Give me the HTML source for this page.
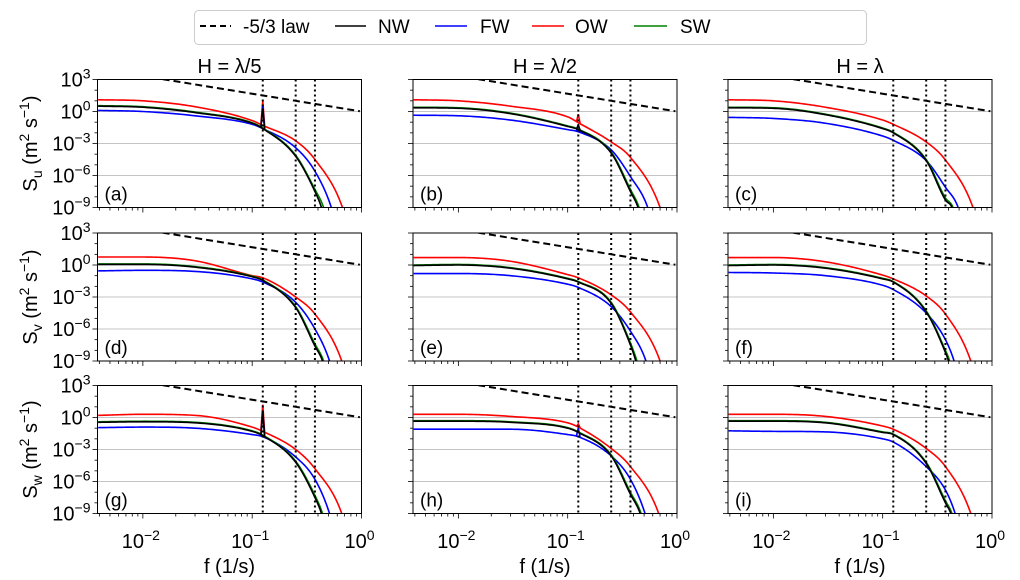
<!DOCTYPE html>
<html><head><meta charset="utf-8">
<style>
body{margin:0;background:#fff;}
svg{display:block;font-family:"Liberation Sans","DejaVu Sans",sans-serif;}
</style></head>
<body>
<svg id="fig" width="1020" height="580" viewBox="0 0 1020 580" xmlns="http://www.w3.org/2000/svg">
<g id="legend">
  <rect x="194.5" y="10.5" width="672" height="34" rx="4" fill="#fff" stroke="#ccc"/>
  <g><line x1="200" y1="26" x2="231" y2="26" stroke="#000" stroke-width="2" stroke-dasharray="6,4"/><text x="243" y="33" font-size="19">-5/3 law</text></g>
  <g><line x1="335" y1="26" x2="366" y2="26" stroke="#000" stroke-width="1.6"/><text x="378" y="33" font-size="19">NW</text></g>
  <g><line x1="435" y1="26" x2="467" y2="26" stroke="#0000ff" stroke-width="1.6"/><text x="480" y="33" font-size="19">FW</text></g>
  <g><line x1="532" y1="26" x2="564" y2="26" stroke="#ff0000" stroke-width="1.6"/><text x="575" y="33" font-size="19">OW</text></g>
  <g><line x1="634" y1="26" x2="667" y2="26" stroke="#008000" stroke-width="1.6"/><text x="680" y="33" font-size="19">SW</text></g>
</g>
</svg>
<script>
// ---- data ----
const freqs = [0.0039, 0.01, 0.03, 0.1, 0.125, 0.25, 0.375];
const panelLabels = ["(a)","(b)","(c)","(d)","(e)","(f)","(g)","(h)","(i)"];
const colTitles = ["H = λ/5","H = λ/2","H = λ"];
const rowVars = ["u","v","w"];
const yTickExps = [3, 0, -3, -6, -9];
const xTickExps = [-2, -1, 0];
const markerFreqs = [0.125, 0.25, 0.375];
// log10 S at freqs, per panel
const owVals = [
 [1.1,1.0,0.45,-0.85,-1.3,-2.75,-4.5],[1.1,1.0,0.5,-0.5,-1.05,-2.85,-4.3],[1.1,1.0,0.4,-0.8,-1.2,-2.85,-4.55],
 [0.75,0.75,0.4,-1.0,-1.2,-3.0,-4.6],[0.7,0.7,0.35,-0.9,-1.2,-2.8,-4.4],[0.7,0.7,0.3,-0.95,-1.3,-2.9,-4.6],
 [0.2,0.3,0.2,-0.9,-1.3,-3.0,-4.8],[0.3,0.3,0.1,-0.5,-0.9,-2.9,-4.6],[0.3,0.3,0.1,-0.8,-1.1,-2.9,-4.6]];
const fwVals = [
 [0.1,0.0,-0.4,-1.2,-1.6,-3.4,-5.6],[-0.35,-0.4,-0.8,-1.7,-1.9,-3.6,-6.1],[-0.55,-0.65,-1.1,-2.3,-2.7,-4.6,-7.1],
 [-0.55,-0.5,-0.6,-1.3,-1.6,-3.5,-6.0],[-0.8,-0.8,-1.0,-1.8,-2.1,-3.9,-6.2],[-0.7,-0.75,-1.0,-1.9,-2.3,-4.5,-7.0],
 [-0.95,-0.9,-1.0,-1.6,-1.8,-3.7,-5.8],[-1.1,-1.1,-1.1,-1.6,-1.8,-3.6,-5.8],[-1.25,-1.3,-1.35,-2.0,-2.3,-4.6,-6.8]];
const nwVals = [
 [0.5,0.4,-0.1,-1.1,-1.6,-4.2,-7.5],[0.35,0.3,-0.2,-1.4,-1.7,-3.9,-7.5],[0.35,0.3,-0.3,-1.6,-2.0,-4.6,-8.3],
 [0.05,0.05,-0.2,-1.1,-1.45,-4.0,-7.6],[-0.05,0.0,-0.3,-1.3,-1.6,-3.6,-7.5],[-0.05,0.0,-0.3,-1.3,-1.6,-4.4,-8.2],
 [-0.45,-0.4,-0.5,-1.3,-1.7,-4.2,-7.5],[-0.35,-0.35,-0.45,-1.0,-1.4,-3.6,-7.2],[-0.35,-0.35,-0.5,-1.4,-1.6,-4.3,-8.0]];
const swVals = [
 [0.55,0.45,-0.05,-1.05,-1.55,-4.1,-7.3],[0.4,0.35,-0.15,-1.35,-1.65,-3.8,-7.3],[0.4,0.35,-0.25,-1.55,-1.95,-4.5,-8.1],
 [0.1,0.1,-0.15,-1.05,-1.4,-3.9,-7.4],[0.0,0.05,-0.25,-1.25,-1.55,-3.5,-7.3],[0.0,0.05,-0.25,-1.25,-1.55,-4.3,-8.0],
 [-0.4,-0.35,-0.45,-1.25,-1.65,-4.1,-7.3],[-0.3,-0.3,-0.4,-0.95,-1.35,-3.5,-7.0],[-0.3,-0.3,-0.45,-1.35,-1.55,-4.2,-7.8]];
// frequency where each series reaches 1e-9
const owEnd = [0.67,0.70,0.67,0.66,0.70,0.64,0.66,0.68,0.64];
const fwEnd = [0.53,0.54,0.49,0.51,0.52,0.45,0.51,0.51,0.46];
const nwEnd = [0.43,0.44,0.43,0.44,0.42,0.40,0.43,0.46,0.42];
const swEnd = [0.45,0.45,0.44,0.45,0.43,0.41,0.44,0.47,0.43];
// spike peaks at 0.125 (log10), null = none
const owSpike = [1.0,-0.25,null,null,null,null,1.2,-0.6,null];
const fwSpike = [0.5,-1.2,null,null,null,null,0.6,-1.0,null];
const nwSpike = [0.3,-1.3,null,null,null,null,0.5,null,null];

// ---- layout ----
const colX=[97.5,413,728], rowY=[79.5,233,385.5], PW=264, PH=128;
const XMIN=-2.415, XMAX=0, YMIN=-9, YMAX=3;
const NS="http://www.w3.org/2000/svg";
const svg=document.getElementById('fig');
function mk(tag,attrs,parent){const e=document.createElementNS(NS,tag);for(const k in attrs)e.setAttribute(k,attrs[k]);(parent||svg).appendChild(e);return e;}
function xS(c,f){return colX[c]+(Math.log10(f)-XMIN)/(XMAX-XMIN)*PW;}
function yS(r,lv){return rowY[r]+(YMAX-lv)/(YMAX-YMIN)*PH;}
function supText(parent,x,y,base,sup,anchor,size){
  const t=mk('text',{x:x,y:y,'font-size':size,'text-anchor':anchor},parent);
  t.appendChild(document.createTextNode(base));
  const s=mk('tspan',{dy:-8,'font-size':size*0.7},t);s.textContent=sup;return t;}
// monotone cubic (Fritsch-Carlson) in log-log space
function monotone(xs,ys,n){
  const k=xs.length,d=[],m=[];
  for(let i=0;i<k-1;i++)d.push((ys[i+1]-ys[i])/(xs[i+1]-xs[i]));
  m[0]=d[0];m[k-1]=d[k-2];
  for(let i=1;i<k-1;i++)m[i]=(d[i-1]*d[i]<=0)?0:(d[i-1]+d[i])/2;
  for(let i=0;i<k-1;i++){if(d[i]===0){m[i]=0;m[i+1]=0;continue;}
    const a=m[i]/d[i],b=m[i+1]/d[i],s=a*a+b*b;if(s>9){const t=3/Math.sqrt(s);m[i]=t*a*d[i];m[i+1]=t*b*d[i];}}
  const out=[];
  for(let i=0;i<k-1;i++){const h=xs[i+1]-xs[i];
    for(let j=0;j<n;j++){const t=j/n,t2=t*t,t3=t2*t;
      const y=(2*t3-3*t2+1)*ys[i]+(t3-2*t2+t)*h*m[i]+(-2*t3+3*t2)*ys[i+1]+(t3-t2)*h*m[i+1];
      out.push([xs[i]+t*h,y]);}}
  out.push([xs[k-1],ys[k-1]]);return out;}

const defs=mk('defs',{});
for(let r=0;r<3;r++)for(let c=0;c<3;c++){
  const p=r*3+c;
  const cp=mk('clipPath',{id:'clip'+p},defs);
  mk('rect',{x:colX[c],y:rowY[r],width:PW,height:PH},cp);
  const g=mk('g',{});
  
  
  [0,-3,-6].forEach(e=>{const l=mk('line',{x1:colX[c],x2:colX[c]+PW,y1:yS(r,e),y2:yS(r,e),stroke:'#b0b0b0','stroke-width':0.8},g);
    });
  const cg=mk('g',{'clip-path':'url(#clip'+p+')'},g);
  const lawPts=[];for(let lx=XMIN;lx<=0.001;lx+=0.05)lawPts.push(xS(c,Math.pow(10,lx)).toFixed(2)+','+yS(r,-5/3*lx).toFixed(2));
  const law=mk('polyline',{points:lawPts.join(' '),fill:'none',stroke:'#000','stroke-width':2,'stroke-dasharray':'7,4'},cg);
  
  const series=[[owVals,owEnd,owSpike,'#ff0000','ow'],[fwVals,fwEnd,fwSpike,'#0000ff','fw'],[swVals,swEnd,null,'#008000','sw'],[nwVals,nwEnd,nwSpike,'#000000','nw']];
  series.forEach(s=>{
    const vals=s[0][p];
    const xs=freqs.map(f=>Math.log10(f)).concat([Math.log10(s[1][p]),Math.log10(s[1][p]*1.06)]);
    const ys=vals.concat([-9,-10]);
    const samp=monotone(xs,ys,24);
    const pts=samp.map(q=>xS(c,Math.pow(10,q[0])).toFixed(2)+','+yS(r,q[1]).toFixed(2));
    const path=mk('polyline',{points:pts.join(' '),fill:'none',stroke:s[3],'stroke-width':1.6,'stroke-linejoin':'round'},cg);
    
    const sp=s[2]?s[2][p]:null;
    if(sp!==null&&sp!==undefined){
      const v=vals[4];
      const sk=mk('polyline',{points:[[xS(c,0.12),yS(r,v+0.05)],[xS(c,0.125),yS(r,sp)],[xS(c,0.13),yS(r,v-0.05)]].map(q=>q[0].toFixed(2)+','+q[1].toFixed(2)).join(' '),fill:'none',stroke:s[3],'stroke-width':1.6},cg);
      
    }
  });
  markerFreqs.forEach(f=>{const l=mk('line',{x1:xS(c,f),x2:xS(c,f),y1:rowY[r],y2:rowY[r]+PH,stroke:'#000','stroke-width':2,'stroke-dasharray':'2,3'},g);
    });
  const fr=mk('rect',{x:colX[c],y:rowY[r],width:PW,height:PH,fill:'none',stroke:'#000','stroke-width':1},g);
  
  for(let e=-3;e<=0;e++)for(let m=1;m<10;m++){const f=m*Math.pow(10,e);const lx=Math.log10(f);if(lx<XMIN||lx>XMAX+1e-9)continue;
    const x=xS(c,f);mk('line',{x1:x,x2:x,y1:rowY[r]+PH,y2:rowY[r]+PH+(m===1?5:3),stroke:'#000','stroke-width':0.8},g);}
  for(let e=-9;e<=3;e++){mk('line',{x1:colX[c],x2:colX[c]-(e%3===0?5:3),y1:yS(r,e),y2:yS(r,e),stroke:'#000','stroke-width':0.8},g);}
  const pl=mk('text',{x:colX[c]+7,y:rowY[r]+PH-7,'font-size':19},g);pl.textContent=panelLabels[p];
  
  if(c===0){yTickExps.forEach(e=>{const t=supText(g,colX[0]-7,yS(r,e)+7,'10',String(e).replace('-','−'),'end',20);
      });
    const yl=mk('text',{transform:'translate(37,'+(rowY[r]+PH/2)+') rotate(-90)','text-anchor':'middle','font-size':20},g);
    
    yl.appendChild(document.createTextNode('S'));
    const sb=mk('tspan',{dy:5,'font-size':14},yl);sb.textContent=rowVars[r];
    const t2=mk('tspan',{dy:-5},yl);t2.textContent=' (m';
    const s2=mk('tspan',{dy:-8,'font-size':14},yl);s2.textContent='2';
    const t3=mk('tspan',{dy:8},yl);t3.textContent=' s';
    const s3=mk('tspan',{dy:-8,'font-size':14},yl);s3.textContent='−1';
    const t4=mk('tspan',{dy:8},yl);t4.textContent=')';
  }
  if(r===2){xTickExps.forEach(e=>{const t=supText(g,xS(c,Math.pow(10,e))-2,548,'10',String(e).replace('-','−'),'middle',20);
      });
    const xl=mk('text',{x:colX[c]+PW/2,y:573,'text-anchor':'middle','font-size':20},g);xl.textContent='f (1/s)';
    }
  if(r===0){const tt=mk('text',{x:colX[c]+PW/2,y:73,'text-anchor':'middle','font-size':20},g);tt.textContent=colTitles[c];
    }
}
</script>
</body></html>
